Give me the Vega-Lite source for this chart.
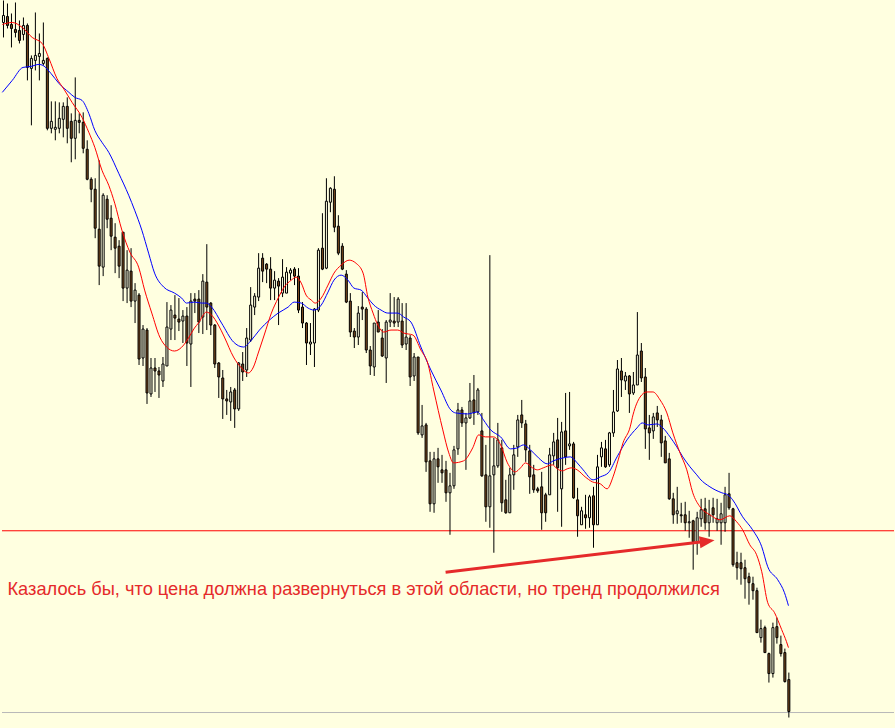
{
"$schema":"https://vega.github.io/schema/vega-lite/v6.json",
"width":895,"height":728,
"autosize":{"type":"fit","contains":"padding"},
"padding":0,
"background":"#FFFFE0",
"config":{"view":{"stroke":null},"scale":{"continuousPadding":0}},
"datasets":{
"candles":[
{"i":0,"o":706,"h":728,"l":691,"c":713},{"i":1,"o":712,"h":725,"l":700,"c":703},{"i":2,"o":704,"h":715,"l":681,"c":700},{"i":3,"o":699,"h":726,"l":691,"c":696},{"i":4,"o":698,"h":708,"l":685,"c":688},
{"i":5,"o":694,"h":711,"l":688,"c":703},{"i":6,"o":703,"h":705,"l":648,"c":661},{"i":7,"o":660,"h":673,"l":603,"c":670},{"i":8,"o":668,"h":716,"l":658,"c":673},{"i":9,"o":672,"h":695,"l":648,"c":675},
{"i":10,"o":665,"h":706,"l":663,"c":668},{"i":11,"o":670,"h":671,"l":598,"c":600},{"i":12,"o":600,"h":627,"l":595,"c":607},{"i":13,"o":599,"h":627,"l":588,"c":601},{"i":14,"o":600,"h":626,"l":595,"c":610},
{"i":15,"o":609,"h":626,"l":591,"c":622},{"i":16,"o":622,"h":631,"l":585,"c":600},{"i":17,"o":607,"h":615,"l":566,"c":590},{"i":18,"o":590,"h":651,"l":569,"c":608},{"i":19,"o":608,"h":615,"l":595,"c":606},
{"i":20,"o":606,"h":616,"l":575,"c":580},{"i":21,"o":579,"h":588,"l":548,"c":549},{"i":22,"o":549,"h":551,"l":526,"c":539},{"i":23,"o":539,"h":550,"l":490,"c":500},{"i":24,"o":499,"h":568,"l":443,"c":462},
{"i":25,"o":461,"h":535,"l":452,"c":533},{"i":26,"o":529,"h":533,"l":500,"c":509},{"i":27,"o":510,"h":523,"l":478,"c":492},{"i":28,"o":491,"h":505,"l":455,"c":480},{"i":29,"o":482,"h":488,"l":450,"c":462},
{"i":30,"o":496,"h":496,"l":427,"c":440},{"i":31,"o":440,"h":478,"l":425,"c":458},{"i":32,"o":457,"h":480,"l":421,"c":427},{"i":33,"o":427,"h":445,"l":405,"c":438},{"i":34,"o":433,"h":435,"l":363,"c":369},
{"i":35,"o":370,"h":403,"l":362,"c":399},{"i":36,"o":398,"h":400,"l":324,"c":335},{"i":37,"o":334,"h":370,"l":331,"c":360},{"i":38,"o":360,"h":370,"l":336,"c":357},{"i":39,"o":357,"h":361,"l":330,"c":353},
{"i":40,"o":347,"h":371,"l":341,"c":364},{"i":41,"o":362,"h":426,"l":362,"c":401},{"i":42,"o":399,"h":423,"l":388,"c":418},{"i":43,"o":413,"h":433,"l":388,"c":410},{"i":44,"o":409,"h":430,"l":397,"c":406},
{"i":45,"o":407,"h":418,"l":385,"c":412},{"i":46,"o":412,"h":421,"l":362,"c":385},{"i":47,"o":384,"h":435,"l":341,"c":427},{"i":48,"o":429,"h":435,"l":415,"c":427},{"i":49,"o":429,"h":438,"l":395,"c":406},
{"i":50,"o":411,"h":454,"l":394,"c":447},{"i":51,"o":446,"h":484,"l":398,"c":421},{"i":52,"o":425,"h":426,"l":393,"c":403},{"i":53,"o":403,"h":404,"l":360,"c":364},{"i":54,"o":365,"h":366,"l":330,"c":351},
{"i":55,"o":350,"h":358,"l":309,"c":329},{"i":56,"o":329,"h":338,"l":313,"c":327},{"i":57,"o":326,"h":341,"l":307,"c":336},{"i":58,"o":338,"h":340,"l":300,"c":319},{"i":59,"o":319,"h":366,"l":317,"c":365},
{"i":60,"o":364,"h":376,"l":347,"c":356},{"i":61,"o":358,"h":400,"l":351,"c":390},{"i":62,"o":388,"h":441,"l":386,"c":423},{"i":63,"o":421,"h":435,"l":413,"c":432},{"i":64,"o":431,"h":475,"l":427,"c":460},
{"i":65,"o":470,"h":475,"l":446,"c":457},{"i":66,"o":464,"h":465,"l":445,"c":459},{"i":67,"o":459,"h":471,"l":428,"c":440},{"i":68,"o":440,"h":457,"l":428,"c":448},{"i":69,"o":447,"h":450,"l":403,"c":442},
{"i":70,"o":435,"h":469,"l":431,"c":451},{"i":71,"o":435,"h":461,"l":435,"c":456},{"i":72,"o":455,"h":460,"l":448,"c":458},{"i":73,"o":459,"h":461,"l":443,"c":452},{"i":74,"o":452,"h":460,"l":415,"c":418},
{"i":75,"o":421,"h":426,"l":400,"c":405},{"i":76,"o":405,"h":406,"l":363,"c":385},{"i":77,"o":384,"h":405,"l":373,"c":386},{"i":78,"o":385,"h":420,"l":361,"c":419},{"i":79,"o":418,"h":480,"l":416,"c":478},
{"i":80,"o":480,"h":515,"l":458,"c":459},{"i":81,"o":460,"h":550,"l":459,"c":527},{"i":82,"o":526,"h":541,"l":516,"c":540},{"i":83,"o":539,"h":552,"l":496,"c":501},{"i":84,"o":502,"h":513,"l":473,"c":475},
{"i":85,"o":482,"h":485,"l":458,"c":459},{"i":86,"o":454,"h":458,"l":425,"c":426},{"i":87,"o":427,"h":435,"l":391,"c":396},{"i":88,"o":397,"h":400,"l":380,"c":391},{"i":89,"o":391,"h":422,"l":383,"c":415},
{"i":90,"o":421,"h":436,"l":408,"c":419},{"i":91,"o":419,"h":421,"l":375,"c":378},{"i":92,"o":378,"h":382,"l":353,"c":362},{"i":93,"o":361,"h":405,"l":352,"c":405},{"i":94,"o":406,"h":418,"l":396,"c":396},
{"i":95,"o":390,"h":399,"l":371,"c":372},{"i":96,"o":370,"h":408,"l":345,"c":406},{"i":97,"o":406,"h":435,"l":401,"c":408},{"i":98,"o":407,"h":431,"l":401,"c":405},{"i":99,"o":406,"h":431,"l":401,"c":429},
{"i":100,"o":407,"h":425,"l":380,"c":383},{"i":101,"o":384,"h":425,"l":378,"c":391},{"i":102,"o":390,"h":393,"l":342,"c":351},{"i":103,"o":352,"h":375,"l":347,"c":371},{"i":104,"o":371,"h":371,"l":293,"c":295},
{"i":105,"o":293,"h":323,"l":290,"c":302},{"i":106,"o":303,"h":305,"l":256,"c":266},{"i":107,"o":267,"h":276,"l":216,"c":224},{"i":108,"o":224,"h":276,"l":215,"c":269},{"i":109,"o":269,"h":280,"l":245,"c":261},
{"i":110,"o":258,"h":273,"l":245,"c":255},{"i":111,"o":258,"h":267,"l":226,"c":235},{"i":112,"o":235,"h":255,"l":193,"c":242},{"i":113,"o":242,"h":282,"l":239,"c":278},{"i":114,"o":279,"h":325,"l":273,"c":318},
{"i":115,"o":318,"h":321,"l":301,"c":305},{"i":116,"o":305,"h":315,"l":258,"c":310},{"i":117,"o":310,"h":345,"l":309,"c":327},{"i":118,"o":328,"h":353,"l":303,"c":315},{"i":119,"o":316,"h":340,"l":313,"c":338},
{"i":120,"o":297,"h":315,"l":251,"c":252},{"i":121,"o":253,"h":283,"l":206,"c":221},{"i":122,"o":221,"h":473,"l":200,"c":252},{"i":123,"o":253,"h":290,"l":175,"c":262},{"i":124,"o":262,"h":305,"l":260,"c":288},
{"i":125,"o":280,"h":288,"l":216,"c":225},{"i":126,"o":228,"h":248,"l":214,"c":215},{"i":127,"o":215,"h":260,"l":215,"c":253},{"i":128,"o":253,"h":283,"l":238,"c":273},{"i":129,"o":281,"h":313,"l":271,"c":308},
{"i":130,"o":313,"h":328,"l":300,"c":305},{"i":131,"o":304,"h":308,"l":266,"c":278},{"i":132,"o":277,"h":283,"l":234,"c":251},{"i":133,"o":253,"h":263,"l":235,"c":238},{"i":134,"o":239,"h":241,"l":235,"c":237},
{"i":135,"o":241,"h":256,"l":198,"c":215},{"i":136,"o":233,"h":235,"l":206,"c":215},{"i":137,"o":233,"h":280,"l":233,"c":273},{"i":138,"o":272,"h":295,"l":263,"c":286},{"i":139,"o":288,"h":310,"l":216,"c":260},
{"i":140,"o":239,"h":306,"l":201,"c":296},{"i":141,"o":297,"h":335,"l":263,"c":271},{"i":142,"o":282,"h":336,"l":278,"c":284},{"i":143,"o":284,"h":286,"l":229,"c":230},{"i":144,"o":228,"h":240,"l":191,"c":212},
{"i":145,"o":203,"h":221,"l":203,"c":217},{"i":146,"o":213,"h":233,"l":199,"c":210},{"i":147,"o":210,"h":233,"l":200,"c":231},{"i":148,"o":232,"h":241,"l":180,"c":203},{"i":149,"o":203,"h":273,"l":203,"c":261},
{"i":150,"o":271,"h":286,"l":261,"c":280},{"i":151,"o":279,"h":288,"l":260,"c":261},{"i":152,"o":263,"h":296,"l":261,"c":295},{"i":153,"o":295,"h":338,"l":291,"c":316},{"i":154,"o":317,"h":368,"l":316,"c":359},
{"i":155,"o":357,"h":370,"l":331,"c":348},{"i":156,"o":347,"h":356,"l":338,"c":352},{"i":157,"o":352,"h":353,"l":315,"c":334},{"i":158,"o":335,"h":356,"l":333,"c":343},{"i":159,"o":343,"h":416,"l":343,"c":373},
{"i":160,"o":377,"h":385,"l":346,"c":350},{"i":161,"o":351,"h":360,"l":279,"c":299},{"i":162,"o":300,"h":313,"l":268,"c":295},{"i":163,"o":297,"h":315,"l":289,"c":311},{"i":164,"o":315,"h":322,"l":301,"c":308},
{"i":165,"o":308,"h":313,"l":271,"c":285},{"i":166,"o":287,"h":292,"l":265,"c":265},{"i":167,"o":269,"h":275,"l":228,"c":229},{"i":168,"o":229,"h":235,"l":204,"c":213},{"i":169,"o":214,"h":241,"l":204,"c":217},
{"i":170,"o":213,"h":225,"l":205,"c":212},{"i":171,"o":213,"h":226,"l":197,"c":205},{"i":172,"o":205,"h":217,"l":190,"c":206},{"i":173,"o":207,"h":208,"l":158,"c":186},{"i":174,"o":186,"h":216,"l":173,"c":210},
{"i":175,"o":209,"h":229,"l":201,"c":218},{"i":176,"o":219,"h":230,"l":198,"c":205},{"i":177,"o":205,"h":228,"l":191,"c":213},{"i":178,"o":220,"h":230,"l":205,"c":213},{"i":179,"o":205,"h":229,"l":197,"c":209},
{"i":180,"o":205,"h":225,"l":183,"c":214},{"i":181,"o":205,"h":241,"l":196,"c":233},{"i":182,"o":234,"h":255,"l":218,"c":220},{"i":183,"o":219,"h":220,"l":161,"c":163},{"i":184,"o":165,"h":176,"l":148,"c":160},
{"i":185,"o":165,"h":175,"l":143,"c":159},{"i":186,"o":160,"h":168,"l":129,"c":149},{"i":187,"o":151,"h":155,"l":123,"c":145},{"i":188,"o":144,"h":151,"l":128,"c":137},{"i":189,"o":137,"h":140,"l":95,"c":95},
{"i":190,"o":90,"h":108,"l":85,"c":99},{"i":191,"o":100,"h":102,"l":75,"c":75},{"i":192,"o":74,"h":75,"l":45,"c":54},{"i":193,"o":54,"h":105,"l":50,"c":100},{"i":194,"o":101,"h":110,"l":84,"c":90},
{"i":195,"o":83,"h":92,"l":71,"c":74},{"i":196,"o":75,"h":79,"l":45,"c":46},{"i":197,"o":48,"h":55,"l":10,"c":16}
],
"ma":[
{"s":"b","i":-0.3,"v":636},{"s":"b","i":2.2,"v":648},{"s":"b","i":4.9,"v":661},{"s":"b","i":6.9,"v":662},{"s":"b","i":8.9,"v":664},{"s":"b","i":9.9,"v":663},{"s":"b","i":11.9,"v":655},{"s":"b","i":13.9,"v":645},{"s":"b","i":16.4,"v":636},{"s":"b","i":17.9,"v":631},{"s":"b","i":19.7,"v":628},{"s":"b","i":21.4,"v":615},{"s":"b","i":22.9,"v":598},{"s":"b","i":24.7,"v":586},{"s":"b","i":26.4,"v":576},{"s":"b","i":28.9,"v":555},{"s":"b","i":31.4,"v":533},{"s":"b","i":32.9,"v":518},{"s":"b","i":34.7,"v":498},{"s":"b","i":36.4,"v":475},{"s":"b","i":37.9,"v":455},{"s":"b","i":40.2,"v":441},{"s":"b","i":42.9,"v":435},{"s":"b","i":44.7,"v":430},{"s":"b","i":45.9,"v":425},{"s":"b","i":47.9,"v":426},{"s":"b","i":49.7,"v":425},{"s":"b","i":50.9,"v":425},{"s":"b","i":52.2,"v":421},{"s":"b","i":54.7,"v":405},{"s":"b","i":57.7,"v":386},{"s":"b","i":60.2,"v":381},{"s":"b","i":62.2,"v":388},{"s":"b","i":64.2,"v":398},{"s":"b","i":66.7,"v":408},{"s":"b","i":68.9,"v":415},{"s":"b","i":71.4,"v":421},{"s":"b","i":72.9,"v":426},{"s":"b","i":74.7,"v":425},{"s":"b","i":76.4,"v":420},{"s":"b","i":77.9,"v":418},{"s":"b","i":79.7,"v":423},{"s":"b","i":81.4,"v":436},{"s":"b","i":82.9,"v":448},{"s":"b","i":84.7,"v":453},{"s":"b","i":86.4,"v":448},{"s":"b","i":87.9,"v":440},{"s":"b","i":89.7,"v":438},{"s":"b","i":91.4,"v":430},{"s":"b","i":92.9,"v":423},{"s":"b","i":94.7,"v":418},{"s":"b","i":96.4,"v":415},{"s":"b","i":98.9,"v":415},{"s":"b","i":100.4,"v":411},{"s":"b","i":102.2,"v":406},{"s":"b","i":104.7,"v":381},{"s":"b","i":107.2,"v":358},{"s":"b","i":109.7,"v":338},{"s":"b","i":112.2,"v":318},{"s":"b","i":113.4,"v":315},{"s":"b","i":116.4,"v":314},{"s":"b","i":118.9,"v":316},{"s":"b","i":120.4,"v":308},{"s":"b","i":122.2,"v":298},{"s":"b","i":124.7,"v":291},{"s":"b","i":127.2,"v":279},{"s":"b","i":128.9,"v":280},{"s":"b","i":130.4,"v":283},{"s":"b","i":132.2,"v":278},{"s":"b","i":134.2,"v":270},{"s":"b","i":136.4,"v":264},{"s":"b","i":137.9,"v":267},{"s":"b","i":140.4,"v":270},{"s":"b","i":142.2,"v":271},{"s":"b","i":143.9,"v":265},{"s":"b","i":145.4,"v":258},{"s":"b","i":147.9,"v":248},{"s":"b","i":149.7,"v":251},{"s":"b","i":151.7,"v":255},{"s":"b","i":153.9,"v":271},{"s":"b","i":156.4,"v":288},{"s":"b","i":158.9,"v":300},{"s":"b","i":160.2,"v":305},{"s":"b","i":161.7,"v":303},{"s":"b","i":163.9,"v":304},{"s":"b","i":165.4,"v":300},{"s":"b","i":167.2,"v":291},{"s":"b","i":168.9,"v":281},{"s":"b","i":170.4,"v":271},{"s":"b","i":172.2,"v":261},{"s":"b","i":173.9,"v":253},{"s":"b","i":174.7,"v":249},{"s":"b","i":177.2,"v":241},{"s":"b","i":180.2,"v":235},{"s":"b","i":181.7,"v":233},{"s":"b","i":182.9,"v":228},{"s":"b","i":185.4,"v":211},{"s":"b","i":187.9,"v":198},{"s":"b","i":190.2,"v":181},{"s":"b","i":191.7,"v":161},{"s":"b","i":194.2,"v":148},{"s":"b","i":195.9,"v":135},{"s":"b","i":196.9,"v":122},
{"s":"r","i":-0.3,"v":704},{"s":"r","i":2.2,"v":706},{"s":"r","i":4.7,"v":701},{"s":"r","i":7.2,"v":691},{"s":"r","i":9.7,"v":685},{"s":"r","i":11.4,"v":670},{"s":"r","i":13.4,"v":650},{"s":"r","i":15.2,"v":639},{"s":"r","i":17.2,"v":626},{"s":"r","i":19.7,"v":611},{"s":"r","i":21.4,"v":596},{"s":"r","i":22.9,"v":581},{"s":"r","i":24.7,"v":558},{"s":"r","i":26.4,"v":543},{"s":"r","i":27.9,"v":525},{"s":"r","i":29.7,"v":498},{"s":"r","i":31.7,"v":476},{"s":"r","i":33.9,"v":461},{"s":"r","i":35.4,"v":438},{"s":"r","i":37.2,"v":415},{"s":"r","i":39.2,"v":391},{"s":"r","i":40.9,"v":381},{"s":"r","i":42.9,"v":377},{"s":"r","i":45.2,"v":383},{"s":"r","i":46.4,"v":390},{"s":"r","i":47.9,"v":400},{"s":"r","i":48.9,"v":405},{"s":"r","i":50.9,"v":416},{"s":"r","i":52.2,"v":413},{"s":"r","i":53.9,"v":403},{"s":"r","i":55.4,"v":391},{"s":"r","i":57.7,"v":371},{"s":"r","i":59.7,"v":360},{"s":"r","i":61.4,"v":355},{"s":"r","i":62.7,"v":361},{"s":"r","i":63.9,"v":375},{"s":"r","i":65.4,"v":393},{"s":"r","i":67.2,"v":415},{"s":"r","i":68.9,"v":430},{"s":"r","i":70.4,"v":441},{"s":"r","i":72.2,"v":448},{"s":"r","i":73.4,"v":451},{"s":"r","i":74.7,"v":445},{"s":"r","i":75.9,"v":433},{"s":"r","i":77.2,"v":428},{"s":"r","i":78.2,"v":425},{"s":"r","i":79.7,"v":430},{"s":"r","i":81.4,"v":443},{"s":"r","i":82.9,"v":455},{"s":"r","i":84.7,"v":463},{"s":"r","i":86.7,"v":468},{"s":"r","i":88.4,"v":465},{"s":"r","i":90.2,"v":455},{"s":"r","i":91.4,"v":431},{"s":"r","i":92.7,"v":415},{"s":"r","i":93.9,"v":403},{"s":"r","i":95.4,"v":396},{"s":"r","i":97.2,"v":398},{"s":"r","i":98.9,"v":398},{"s":"r","i":100.4,"v":395},{"s":"r","i":102.7,"v":393},{"s":"r","i":104.7,"v":378},{"s":"r","i":106.4,"v":365},{"s":"r","i":107.9,"v":338},{"s":"r","i":110.2,"v":298},{"s":"r","i":111.7,"v":275},{"s":"r","i":112.9,"v":265},{"s":"r","i":115.4,"v":267},{"s":"r","i":117.7,"v":280},{"s":"r","i":119.2,"v":293},{"s":"r","i":120.9,"v":291},{"s":"r","i":122.9,"v":291},{"s":"r","i":124.7,"v":283},{"s":"r","i":126.4,"v":265},{"s":"r","i":128.4,"v":256},{"s":"r","i":129.7,"v":260},{"s":"r","i":130.9,"v":265},{"s":"r","i":132.7,"v":260},{"s":"r","i":133.9,"v":258},{"s":"r","i":135.4,"v":260},{"s":"r","i":137.7,"v":263},{"s":"r","i":138.9,"v":259},{"s":"r","i":140.2,"v":257},{"s":"r","i":141.4,"v":259},{"s":"r","i":142.4,"v":260},{"s":"r","i":143.9,"v":258},{"s":"r","i":145.9,"v":251},{"s":"r","i":147.7,"v":246},{"s":"r","i":149.7,"v":244},{"s":"r","i":151.4,"v":239},{"s":"r","i":152.9,"v":251},{"s":"r","i":154.2,"v":268},{"s":"r","i":155.4,"v":285},{"s":"r","i":157.2,"v":301},{"s":"r","i":157.9,"v":313},{"s":"r","i":159.7,"v":331},{"s":"r","i":161.4,"v":336},{"s":"r","i":162.9,"v":336},{"s":"r","i":164.7,"v":328},{"s":"r","i":166.4,"v":315},{"s":"r","i":167.9,"v":295},{"s":"r","i":169.7,"v":275},{"s":"r","i":171.4,"v":258},{"s":"r","i":172.9,"v":235},{"s":"r","i":174.7,"v":221},{"s":"r","i":177.2,"v":213},{"s":"r","i":179.7,"v":208},{"s":"r","i":182.2,"v":212},{"s":"r","i":183.9,"v":206},{"s":"r","i":185.4,"v":198},{"s":"r","i":187.2,"v":183},{"s":"r","i":188.9,"v":173},{"s":"r","i":190.2,"v":156},{"s":"r","i":191.7,"v":125},{"s":"r","i":193.4,"v":115},{"s":"r","i":195.2,"v":98},{"s":"r","i":196.4,"v":86},{"s":"r","i":196.9,"v":80}
]
},
"layer":[
{"data":{"values":[{"v":197}]},
 "mark":{"type":"rule","color":"#FF0000","strokeWidth":1},
 "encoding":{"y":{"field":"v","type":"quantitative","scale":{"domain":[-0.5,727.5],"nice":false,"zero":false,"padding":0},"axis":null}}},
{"data":{"values":[{"v":15}]},
 "mark":{"type":"rule","color":"#B8B8B8","strokeWidth":1},
 "encoding":{"y":{"field":"v","type":"quantitative","axis":null}}},
{"data":{"name":"candles"},
 "mark":{"type":"rule","color":"#000000","strokeWidth":1},
 "encoding":{
  "x":{"field":"i","type":"quantitative","scale":{"domain":[-0.375,223.375],"nice":false,"zero":false,"padding":0},"axis":null},
  "y":{"field":"l","type":"quantitative","axis":null},
  "y2":{"field":"h"}}},
{"data":{"name":"candles"},
 "mark":{"type":"bar","size":2,"stroke":"#000000","strokeWidth":1},
 "encoding":{
  "x":{"field":"i","type":"quantitative","axis":null},
  "y":{"field":"o","type":"quantitative","axis":null},
  "y2":{"field":"c"},
  "fill":{"condition":{"test":"datum.o > datum.c","value":"#7B4A1E"},"value":"#FFFFE0"}}},
{"data":{"name":"ma"},
 "mark":{"type":"line","strokeWidth":1,"interpolate":"monotone"},
 "encoding":{
  "x":{"field":"i","type":"quantitative","axis":null},
  "y":{"field":"v","type":"quantitative","axis":null},
  "color":{"field":"s","type":"nominal","scale":{"domain":["r","b"],"range":["#FF0000","#0000FF"]},"legend":null}}},
{"data":{"values":[{"i":110.9,"v":155.5},{"i":175.4,"v":186}]},
 "mark":{"type":"line","color":"#E52A2A","strokeWidth":3,"strokeCap":"butt"},
 "encoding":{
  "x":{"field":"i","type":"quantitative","axis":null},
  "y":{"field":"v","type":"quantitative","axis":null}}},
{"data":{"values":[{"i":176.5,"v":186.5}]},
 "mark":{"type":"point","shape":"M-1,-0.8L1,0L-1,0.8Z","filled":true,"opacity":1,"size":225,"angle":353,"color":"#E52A2A"},
 "encoding":{
  "x":{"field":"i","type":"quantitative","axis":null},
  "y":{"field":"v","type":"quantitative","axis":null}}},
{"data":{"values":[{"i":1.0,"v":132.5,"t":"Казалось бы, что цена должна развернуться в этой области, но тренд продолжился"}]},
 "mark":{"type":"text","align":"left","baseline":"alphabetic","font":"Liberation Sans","fontSize":18.25,"color":"#E52A2A"},
 "encoding":{
  "x":{"field":"i","type":"quantitative","axis":null},
  "y":{"field":"v","type":"quantitative","axis":null},
  "text":{"field":"t"}}}
]
}
